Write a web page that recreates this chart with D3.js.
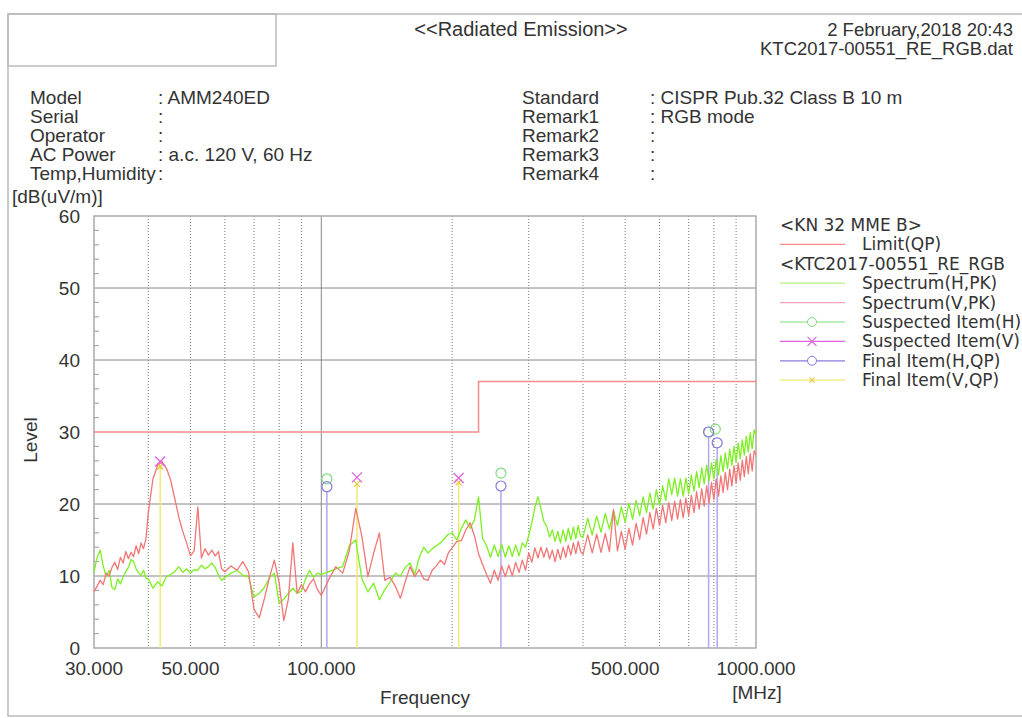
<!DOCTYPE html>
<html>
<head>
<meta charset="utf-8">
<script src="https://cdn.jsdelivr.net/npm/d3@7"></script>
<style>
  html, body { margin: 0; padding: 0; background: #fff; }
  svg text { fill: #333; font-family: "Liberation Sans", Arial, sans-serif; }
  .legend text { font-family: "DejaVu Sans", sans-serif; font-size: 17px; }
</style>
</head>
<body>
<div id="chart"></div>
<script>
// sample frequencies (MHz) shared by both spectrum traces
const freqs = [
  30, 30.5, 31, 31.5, 32, 32.5, 33, 33.5, 34, 34.5, 35, 35.5, 36, 36.5, 37, 37.5, 38, 38.5, 39, 39.5,
  40, 41, 42, 43, 44, 45, 46, 47, 48, 49, 50, 51, 52, 53, 54, 55, 56, 57, 58, 59,
  60, 62, 64, 66, 68, 70, 72, 74, 76, 78, 80, 82, 84, 86, 88, 90, 92, 94, 96, 98,
  100, 104, 108, 112, 116, 120, 124, 128, 132, 136, 140, 144, 148, 152, 156, 160, 164, 168, 172, 176, 180, 184, 188, 192, 196,
  200, 205, 210, 215, 220, 225, 230, 235, 240, 245, 250, 255, 260, 265, 270, 275, 280, 285, 290, 295,
  300, 305, 310, 315, 320, 325, 330, 335, 340, 345, 350, 355, 360, 365, 370, 375, 380, 385, 390, 395,
  400, 410, 420, 430, 440, 450, 460, 470, 480, 490,
  500, 510, 520, 530, 540, 550, 560, 570, 580, 590,
  600, 610, 620, 630, 640, 650, 660, 670, 680, 690,
  700, 710, 720, 730, 740, 750, 760, 770, 780, 790,
  800, 810, 820, 830, 840, 850, 860, 870, 880, 890,
  900, 910, 920, 930, 940, 950, 960, 970, 980, 990, 1000
];

// Spectrum(H,PK) in dB(uV/m)
const levelH = [
  10.5, 12.6, 13.6, 11.4, 9.9, 10.8, 8.4, 8.1, 9.6, 8.9, 9.9, 10.6, 11.2, 12.3, 12.0, 11.0, 10.4, 10.1, 10.8, 9.7,
  9.6, 8.3, 9.2, 8.6, 9.9, 10.2, 10.6, 11.3, 10.5, 11.0, 10.4, 10.9, 10.8, 11.5, 11.0, 11.3, 11.8, 11.2, 10.1, 9.4,
  9.8, 10.4, 10.8, 10.1, 9.9, 7.1, 7.6, 8.4, 9.8, 10.4, 6.2, 6.8, 7.6, 8.3, 7.6, 7.9, 9.6, 10.8, 9.8, 10.4,
  10.2, 10.6, 11.0, 11.3, 14.2, 15.0, 9.6, 7.8, 9.0, 6.7, 8.1, 9.2, 10.4, 10.0, 11.2, 11.8, 10.2, 12.6, 14.0, 13.2, 13.8, 14.2, 14.6, 15.2, 15.8,
  16.0, 15.0, 16.6, 17.8, 16.6, 17.8, 21.0, 15.2, 14.2, 12.6, 14.3, 12.7, 14.4, 12.6, 14.2, 12.7, 14.3, 12.8, 14.6, 14.0,
  15.6, 17.4, 19.5, 21.0, 19.4, 17.6, 16.9, 15.4, 16.4, 14.8, 16.2, 14.6, 16.4, 14.8, 16.6, 15.0, 16.8, 15.2, 17.0, 15.5,
  15.4, 18.0, 15.7, 18.3, 16.1, 18.7, 16.5, 19.1, 17.0, 19.6,
  17.5, 20.1, 17.9, 20.5, 18.4, 21.0, 18.8, 21.5, 19.3, 22.0,
  19.8, 22.5, 20.5, 23.5, 21.3, 23.6, 21.1, 23.5, 21.1, 23.6,
  21.4, 24.0, 21.8, 24.5, 22.3, 25.0, 22.8, 25.4, 23.2, 25.7,
  23.5, 26.2, 24.0, 26.7, 24.5, 27.1, 24.9, 27.6, 25.4, 28.0,
  25.8, 28.5, 26.3, 28.9, 26.8, 29.4, 27.2, 29.9, 27.7, 30.3, 29.6
];

// Spectrum(V,PK) in dB(uV/m)
const levelV = [
  7.8, 8.6, 9.4, 8.8, 10.4, 10.0, 11.2, 11.9, 10.9, 12.6, 11.8, 13.4, 12.4, 13.3, 12.7, 14.2, 13.1, 14.6, 13.8, 15.2,
  18.8, 23.5, 25.3, 25.9, 25.0, 23.4, 20.8, 18.2, 16.2, 14.6, 12.8, 13.5, 19.6, 12.5, 13.8, 12.9, 13.6, 12.8, 13.4, 11.0,
  10.6, 11.4, 10.8, 12.0, 10.6, 5.4, 4.2, 6.9, 9.8, 12.2, 9.0, 3.8, 6.8, 14.6, 7.6, 8.8, 7.8, 8.9, 9.6, 8.1,
  7.3, 9.5, 11.3, 10.4, 13.5, 19.4, 15.5, 9.9, 13.2, 16.0, 9.4, 9.8, 8.6, 6.9, 9.2, 11.3, 9.9, 10.9, 9.6, 9.4, 10.8, 11.4, 12.2, 11.6, 13.2,
  13.9, 14.8, 14.9, 16.4, 17.4, 15.6, 13.1, 11.6, 10.2, 9.0, 10.8, 9.4, 11.4, 9.9, 11.5, 10.0, 11.9, 10.5, 12.2, 10.8,
  13.2, 11.9, 13.9, 12.5, 14.0, 12.6, 13.9, 12.4, 13.6, 12.0, 13.7, 12.3, 14.0, 12.6, 14.3, 12.9, 14.6, 13.1, 14.8, 13.4,
  13.0, 15.7, 13.2, 15.8, 13.3, 15.9, 13.4, 19.2, 13.5, 16.2,
  13.7, 16.6, 14.3, 17.3, 15.1, 18.1, 15.8, 18.8, 16.5, 19.4,
  17.0, 19.8, 17.4, 20.2, 17.7, 20.4, 17.9, 20.6, 18.1, 20.8,
  18.4, 21.2, 18.8, 21.7, 19.3, 22.1, 19.7, 22.5, 20.1, 23.0,
  20.6, 23.5, 21.1, 23.9, 21.6, 24.4, 22.0, 24.8, 22.5, 25.3,
  22.9, 25.7, 23.3, 26.1, 23.8, 26.6, 24.2, 27.0, 24.6, 27.4, 26.8
];

// Limit(QP) steps
const limitFreq = [30, 230, 230, 1000];
const limitLevel = [30, 30, 37, 37];

// measured items
const suspHFreq = [103, 259, 778, 806];
const suspHLevel = [23.5, 24.3, 30.0, 30.4];
const suspVFreq = [42.6, 120.8, 207];
const suspVLevel = [25.9, 23.7, 23.6];
const finalHFreq = [103, 259, 778, 814];
const finalHLevel = [22.4, 22.5, 30.0, 28.5];
const finalVFreq = [42.6, 120.8, 207];
const finalVLevel = [25.2, 22.8, 23.0];

// axes
const yTicks = [0, 10, 20, 30, 40, 50, 60];
const yGrid = [10, 20, 40, 50];
const xTickValues = [30, 50, 100, 500, 1000];
const xGridDotted = [40, 50, 60, 70, 80, 90, 200, 300, 400, 500, 600, 700, 800, 900];
const xGridSolid = [100];

const headerLeft = [
  ["Model", ": AMM240ED"],
  ["Serial", ":"],
  ["Operator", ":"],
  ["AC Power", ": a.c. 120 V, 60 Hz"],
  ["Temp,Humidity", ":"]
];
const headerRight = [
  ["Standard", ": CISPR Pub.32 Class B 10 m"],
  ["Remark1", ": RGB mode"],
  ["Remark2", ":"],
  ["Remark3", ":"],
  ["Remark4", ":"]
];

const colH = "#7cf020";
const colV = "#f27676";
const colLimit = "#f28c8c";
const colSuspH = "#7fdc7f";
const colSuspV = "#e060e0";
const colFinalH = "#8a78e0";
const colFinalV = "#f2ea70";

const W = 1022, H = 718;
const plot = { left: 94, right: 756, top: 216, bottom: 648 };

const svg = d3.select("#chart")
  .append("svg")
  .attr("width", W)
  .attr("height", H);

const x = d3.scaleLog().domain([30, 1000]).range([plot.left, plot.right]);
const y = d3.scaleLinear().domain([0, 60]).range([plot.bottom, plot.top]);

// page frame
svg.append("path")
  .attr("d", `M${W},14 H8 V716 H${W}`)
  .attr("fill", "none")
  .attr("stroke", "#bbb")
  .attr("stroke-width", 1.5);
svg.append("rect")
  .attr("x", 8).attr("y", 14).attr("width", 268).attr("height", 52)
  .attr("fill", "none").attr("stroke", "#bbb").attr("stroke-width", 1.5);

// header
svg.append("text").attr("x", 521).attr("y", 36).attr("text-anchor", "middle")
  .style("font-size", "20px").text("<<Radiated Emission>>");
svg.append("text").attr("x", 1013).attr("y", 36).attr("text-anchor", "end")
  .style("font-size", "18.5px").text("2 February,2018 20:43");
svg.append("text").attr("x", 1013).attr("y", 55).attr("text-anchor", "end")
  .style("font-size", "18.5px").text("KTC2017-00551_RE_RGB.dat");

const info = svg.append("g").style("font-size", "19px");
headerLeft.forEach((r, i) => {
  info.append("text").attr("x", 30).attr("y", 104 + i * 19).text(r[0]);
  info.append("text").attr("x", 158).attr("y", 104 + i * 19).text(r[1]);
});
headerRight.forEach((r, i) => {
  info.append("text").attr("x", 522).attr("y", 104 + i * 19).text(r[0]);
  info.append("text").attr("x", 650).attr("y", 104 + i * 19).text(r[1]);
});

svg.append("text").attr("x", 12).attr("y", 203)
  .style("font-size", "19px").text("[dB(uV/m)]");

// grid
const grid = svg.append("g");
grid.selectAll(".vdot")
  .data(xGridDotted)
  .enter()
  .append("line")
  .attr("x1", d => x(d)).attr("x2", d => x(d))
  .attr("y1", plot.top).attr("y2", plot.bottom)
  .attr("stroke", "#777")
  .attr("stroke-dasharray", "1,2");
grid.selectAll(".vsolid")
  .data(xGridSolid)
  .enter()
  .append("line")
  .attr("x1", d => x(d)).attr("x2", d => x(d))
  .attr("y1", plot.top).attr("y2", plot.bottom)
  .attr("stroke", "#888");
grid.selectAll(".hsolid")
  .data(yGrid)
  .enter()
  .append("line")
  .attr("x1", plot.left).attr("x2", plot.right)
  .attr("y1", d => y(d)).attr("y2", d => y(d))
  .attr("stroke", "#888");
grid.selectAll(".ytick")
  .data(d3.range(2, 60, 2).filter(d => d % 10 !== 0))
  .enter()
  .append("line")
  .attr("x1", plot.left).attr("x2", plot.left + 5)
  .attr("y1", d => y(d)).attr("y2", d => y(d))
  .attr("stroke", "#999");

svg.append("rect")
  .attr("x", plot.left).attr("y", plot.top)
  .attr("width", plot.right - plot.left).attr("height", plot.bottom - plot.top)
  .attr("fill", "none").attr("stroke", "#aaa").attr("stroke-width", 1.5);

// axis labels
svg.append("g")
  .selectAll("text")
  .data(yTicks)
  .enter()
  .append("text")
  .attr("x", 80).attr("y", d => y(d)).attr("dy", "0.36em")
  .attr("text-anchor", "end")
  .style("font-size", "19px")
  .text(d => d);

svg.append("g")
  .selectAll("text")
  .data(xTickValues)
  .enter()
  .append("text")
  .attr("x", d => x(d)).attr("y", 675)
  .attr("text-anchor", "middle")
  .style("font-size", "19px")
  .text(d => d3.format(".3f")(d));

svg.append("text").attr("x", 425).attr("y", 704).attr("text-anchor", "middle")
  .style("font-size", "19px").text("Frequency");
svg.append("text").attr("x", 757).attr("y", 699).attr("text-anchor", "middle")
  .style("font-size", "19px").text("[MHz]");
svg.append("text")
  .attr("transform", "translate(37,440) rotate(-90)")
  .attr("text-anchor", "middle")
  .style("font-size", "19px").text("Level");

// item stems
const stems = svg.append("g");
stems.selectAll(".stemV")
  .data(finalVFreq.map((f, i) => [f, finalVLevel[i]]))
  .enter()
  .append("line")
  .attr("x1", d => x(d[0])).attr("x2", d => x(d[0]))
  .attr("y1", plot.bottom).attr("y2", d => y(d[1]))
  .attr("stroke", colFinalV).attr("stroke-width", 1.5);
stems.selectAll(".stemH")
  .data(finalHFreq.map((f, i) => [f, finalHLevel[i]]))
  .enter()
  .append("line")
  .attr("x1", d => x(d[0])).attr("x2", d => x(d[0]))
  .attr("y1", plot.bottom).attr("y2", d => y(d[1]) + 5)
  .attr("stroke", "#b3a6f0").attr("stroke-width", 1.5);

// limit
const line = d3.line().x(d => x(d[0])).y(d => y(d[1]));
svg.append("path")
  .datum(limitFreq.map((f, i) => [f, limitLevel[i]]))
  .attr("d", line)
  .attr("fill", "none")
  .attr("stroke", colLimit)
  .attr("stroke-width", 1.5);

// spectra
svg.append("path")
  .datum(freqs.map((f, i) => [f, levelH[i]]))
  .attr("d", line)
  .attr("fill", "none")
  .attr("stroke", colH)
  .attr("stroke-width", 1.3)
  .attr("stroke-linejoin", "round");
svg.append("path")
  .datum(freqs.map((f, i) => [f, levelV[i]]))
  .attr("d", line)
  .attr("fill", "none")
  .attr("stroke", colV)
  .attr("stroke-width", 1.3)
  .attr("stroke-linejoin", "round");

// markers
function drawCircles(fs, ls, color) {
  svg.append("g").selectAll("circle")
    .data(fs.map((f, i) => [f, ls[i]]))
    .enter()
    .append("circle")
    .attr("cx", d => x(d[0])).attr("cy", d => y(d[1]))
    .attr("r", 5)
    .attr("fill", "none")
    .attr("stroke", color)
    .attr("stroke-width", 1.2);
}
function drawCrosses(fs, ls, color, s) {
  svg.append("g").selectAll("path")
    .data(fs.map((f, i) => [f, ls[i]]))
    .enter()
    .append("path")
    .attr("d", d => {
      const cx = x(d[0]), cy = y(d[1]);
      return `M${cx - s},${cy - s}L${cx + s},${cy + s}M${cx - s},${cy + s}L${cx + s},${cy - s}`;
    })
    .attr("stroke", color)
    .attr("stroke-width", 1.3);
}
drawCrosses(finalVFreq, finalVLevel, "#e8c840", 3);
drawCircles(suspHFreq, suspHLevel, colSuspH);
drawCrosses(suspVFreq, suspVLevel, colSuspV, 5);
drawCircles(finalHFreq, finalHLevel, colFinalH);

// legend
const legendRows = [
  { text: "<KN 32 MME B>" },
  { text: "Limit(QP)", color: colLimit },
  { text: "<KTC2017-00551_RE_RGB" },
  { text: "Spectrum(H,PK)", color: "#b8f080" },
  { text: "Spectrum(V,PK)", color: "#f4a0c0" },
  { text: "Suspected Item(H)", color: colSuspH, mark: "circle" },
  { text: "Suspected Item(V)", color: colSuspV, mark: "cross" },
  { text: "Final Item(H,QP)", color: colFinalH, mark: "circle" },
  { text: "Final Item(V,QP)", color: colFinalV, mark: "small" }
];

const legend = svg.append("g").attr("class", "legend");
legendRows.forEach((d, i) => {
  const cy = 225 + i * 19.4;
  if (!d.color) {
    legend.append("text").attr("x", 780).attr("y", cy + 6).text(d.text);
    return;
  }
  legend.append("line")
    .attr("x1", 780).attr("x2", 845).attr("y1", cy).attr("y2", cy)
    .attr("stroke", d.color).attr("stroke-width", 1.2);
  if (d.mark === "circle") {
    legend.append("circle").attr("cx", 812).attr("cy", cy).attr("r", 4.5)
      .attr("fill", "#fff").attr("stroke", d.color);
  } else if (d.mark === "cross" || d.mark === "small") {
    const s = d.mark === "cross" ? 4.5 : 2.5;
    legend.append("path")
      .attr("d", `M${812 - s},${cy - s}L${812 + s},${cy + s}M${812 - s},${cy + s}L${812 + s},${cy - s}`)
      .attr("stroke", d.mark === "cross" ? d.color : "#e8c840").attr("stroke-width", 1.2);
  }
  legend.append("text").attr("x", 862).attr("y", cy + 6).text(d.text);
});
</script>
</body>
</html>
